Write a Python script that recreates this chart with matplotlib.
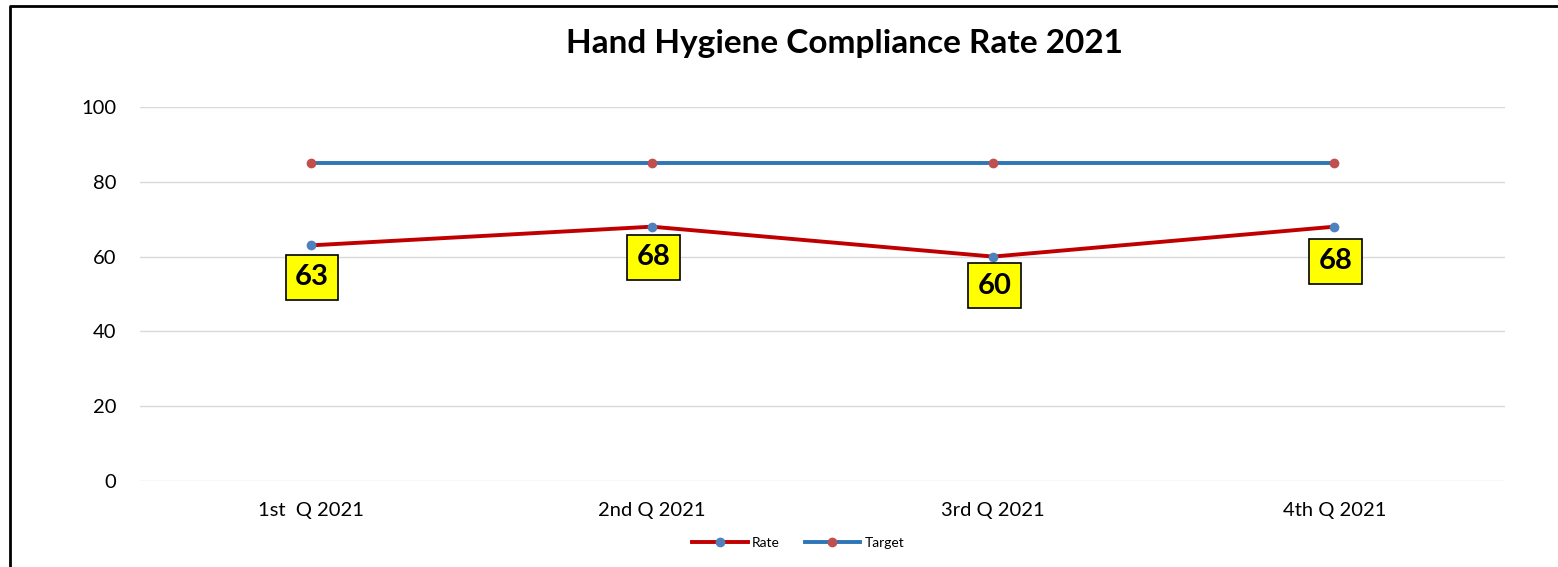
import numpy as np
import matplotlib.pyplot as plt
from matplotlib.lines import Line2D

# podaci
kvartali = ['1st  Q 2021', '2nd Q 2021', '3rd Q 2021', '4th Q 2021']
rate = [63, 68, 60, 68]
target = [85, 85, 85, 85]
y_ticks = [0, 20, 40, 60, 80, 100]

plt.rcParams['font.family'] = ['Lato', 'DejaVu Sans']

fig = plt.figure(figsize=(15.58, 5.67), dpi=100)
ax = fig.add_axes([140 / 1558, 1 - 481 / 567, 1365 / 1558, 374 / 567])

x = np.arange(len(kvartali))
crvena = '#c00000'
plava = '#2e75b6'

ax.plot(x, target, color=plava, lw=2.8, marker='o', ms=6,
        mfc='#c0504d', mec='#c0504d', label='Target', zorder=3)
ax.plot(x, rate, color=crvena, lw=2.8, marker='o', ms=6,
        mfc='#4f81bd', mec='#4f81bd', label='Rate', zorder=4)

# oznake vrijednosti
pomaci = [-23, -22, -21, -25]
for xi, v, dy in zip(x, rate, pomaci):
    ax.annotate(str(v), (xi, v), xytext=(1, dy), textcoords='offset points',
                ha='center', va='center', fontsize=21, fontweight='bold',
                bbox=dict(boxstyle='square,pad=0.32', fc='yellow', ec='black', lw=1.2),
                zorder=5)

ax.set_xlim(-0.5, len(kvartali) - 0.5)
ax.set_ylim(0, 100)
ax.set_yticks(y_ticks)
ax.set_xticks(x)
ax.set_xticklabels(kvartali)
ax.tick_params(length=0, labelsize=14.5)
ax.tick_params(axis='x', pad=15)
ax.tick_params(axis='y', pad=17)
ax.grid(axis='y', color='#d9d9d9', lw=1)
ax.set_axisbelow(True)
for s in ax.spines.values():
    s.set_visible(False)

fig.text(845 / 1558, 1 - 43 / 567, 'Hand Hygiene Compliance Rate 2021',
         ha='center', va='center', fontsize=24, fontweight='bold')

h, l = ax.get_legend_handles_labels()
fig.legend(h[::-1], l[::-1], loc='center', bbox_to_anchor=(798 / 1558, 1 - 543 / 567),
           ncol=2, frameon=False, fontsize=10, handlelength=4, columnspacing=1.8,
           handletextpad=0.3)

# okvir (samo lijevo i gore)
fig.add_artist(Line2D([10 / 1558, 10 / 1558, 1], [0, 1 - 6 / 567, 1 - 6 / 567],
                      transform=fig.transFigure, color='black', lw=2))

fig.savefig('out.png', dpi=100)
